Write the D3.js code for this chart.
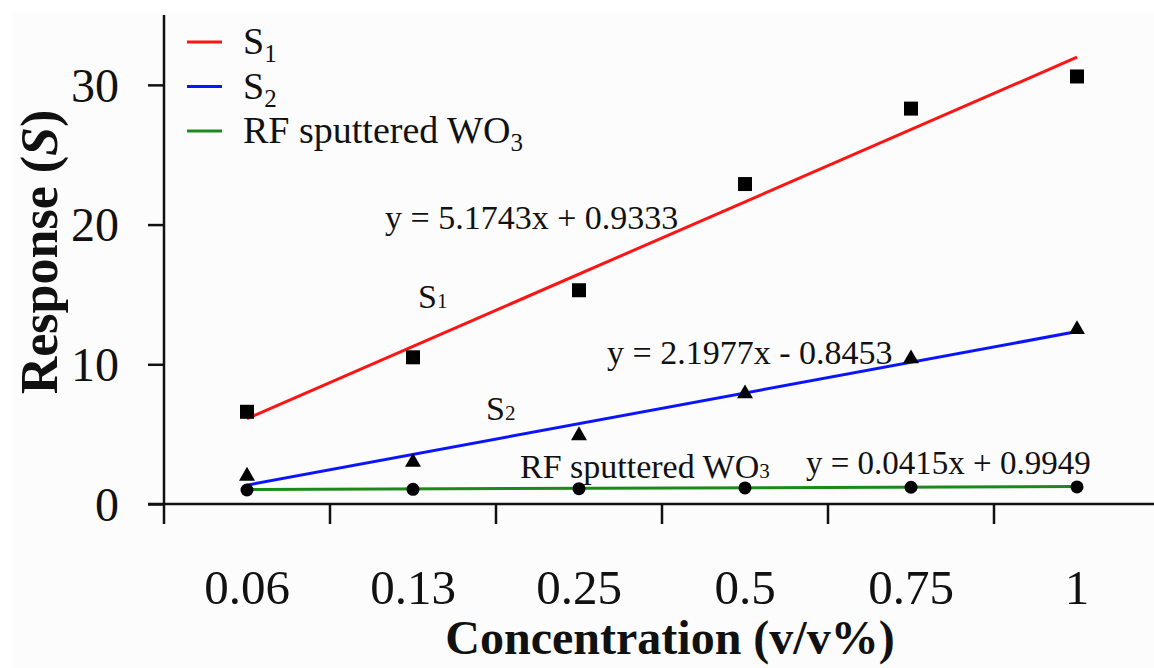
<!DOCTYPE html>
<html>
<head>
<meta charset="utf-8">
<script src="https://cdn.jsdelivr.net/npm/d3@7"></script>
<style>
  html, body { margin: 0; padding: 0; background: #ffffff; }
  svg { display: block; }
  svg text { font-family: "Liberation Serif", "DejaVu Serif", serif !important; fill: #111; }
</style>
</head>
<body>
<svg id="chart" width="1154" height="668"></svg>
<script>
// Concentration categories (plotted at positions 1..6)
const categories = ["0.06", "0.13", "0.25", "0.5", "0.75", "1"];
const positions = [1, 2, 3, 4, 5, 6];

// Measured responses
const s1Values = [6.6, 10.5, 15.3, 22.9, 28.3, 30.6];
const s2Values = [2.0, 3.0, 4.9, 7.9, 10.4, 12.5];
const wo3Values = [1.0, 1.05, 1.1, 1.15, 1.2, 1.22];

// Linear fits y = slope * x + intercept
const s1Fit = [5.1743, 0.9333];
const s2Fit = [2.1977, -0.8453];
const wo3Fit = [0.0415, 0.9949];

const yTicks = [0, 10, 20, 30];

const svg = d3.select("#chart");
svg.append("rect").attr("x", 12).attr("y", 12).attr("width", 1142).attr("height", 656).attr("fill", "#fcfcfc");

const x = d3.scaleLinear().domain([0.5, 6.5]).range([164, 1160]);
const y = d3.scaleLinear().domain([0, 35]).range([504, 15]);

// Y axis
const yAxis = d3.axisLeft(y).tickValues(yTicks).tickSize(16).tickPadding(29);
const gy = svg.append("g").attr("transform", `translate(${x(0.5)},0)`).call(yAxis);
gy.select(".domain").attr("stroke", "#111").attr("stroke-width", 2.5).attr("d", `M0,${y(0)}V${y(35)}`);
gy.selectAll(".tick line").attr("stroke", "#111").attr("stroke-width", 2.5);
gy.selectAll(".tick text").style("font-size", "48px").attr("dy", "0.34em").style("fill", "#111");

// X axis: ticks sit between categories
const gx = svg.append("g").attr("transform", `translate(0,${y(0)})`);
gx.append("line").attr("x1", x(0.5) - 16).attr("x2", 1154).attr("y1", 0).attr("y2", 0)
  .attr("stroke", "#111").attr("stroke-width", 2.5);
const boundaries = positions.map(p => p - 0.5);
gx.selectAll("line.tk").data(boundaries).enter().append("line").attr("class", "tk")
  .attr("x1", d => x(d)).attr("x2", d => x(d)).attr("y1", 0).attr("y2", 20)
  .attr("stroke", "#111").attr("stroke-width", 2.5);
svg.selectAll("text.lbl").data(categories).enter().append("text").attr("class", "lbl")
  .attr("x", (d, i) => x(positions[i])).attr("y", 604).attr("text-anchor", "middle")
  .style("font-size", "49px").text(d => d);

// Axis titles
svg.append("text").attr("x", 670).attr("y", 654).attr("text-anchor", "middle")
  .style("font-size", "48px").style("font-weight", "bold").text("Concentration (v/v%)");
const yt = svg.append("text").attr("transform", "translate(57,252) rotate(-90)")
  .attr("text-anchor", "middle").style("font-size", "52px").style("font-weight", "bold");
yt.append("tspan").text("Response (");
yt.append("tspan").style("font-style", "italic").text("S");
yt.append("tspan").text(")");

// Fit lines
function fitLine(fit, color) {
  const pts = [positions[0], positions[positions.length - 1]].map(p => [x(p), y(fit[0] * p + fit[1])]);
  svg.append("path").attr("d", d3.line()(pts)).attr("stroke", color).attr("stroke-width", 3).attr("fill", "none");
}
fitLine(wo3Fit, "#1a8a1a");
fitLine(s2Fit, "#0a14ff");
fitLine(s1Fit, "#ff1414");

// Markers
svg.selectAll("circle.wo3").data(wo3Values).enter().append("circle").attr("class", "wo3")
  .attr("cx", (d, i) => x(positions[i])).attr("cy", d => y(d)).attr("r", 6.5).attr("fill", "#000");
const tri = d3.symbol().type(d3.symbolTriangle).size(110);
svg.selectAll("path.s2").data(s2Values).enter().append("path").attr("class", "s2")
  .attr("d", tri).attr("transform", (d, i) => `translate(${x(positions[i])},${y(d)})`).attr("fill", "#000");
svg.selectAll("rect.s1").data(s1Values).enter().append("rect").attr("class", "s1")
  .attr("x", (d, i) => x(positions[i]) - 7).attr("y", d => y(d) - 7)
  .attr("width", 14).attr("height", 14).attr("fill", "#000");

// Annotations
function label(txt, sub, px, py, size) {
  const t = svg.append("text").attr("x", px).attr("y", py).style("font-size", size + "px");
  t.append("tspan").text(txt);
  if (sub) t.append("tspan").style("font-size", (size * 0.62) + "px").text(sub);
}
label("y = 5.1743x + 0.9333", null, 385, 229, 34);
label("y = 2.1977x - 0.8453", null, 607, 364, 34);
label("y = 0.0415x + 0.9949", null, 806, 474, 33);
label("S", "1", 418, 308, 34);
label("S", "2", 486, 420, 34);
label("RF sputtered WO", "3", 520, 478, 34);

// Legend
const legend = [["S", "1", "#ff1414"], ["S", "2", "#0a14ff"], ["RF sputtered WO", "3", "#1a8a1a"]];
legend.forEach((d, i) => {
  const ly = 42 + i * 44.5;
  svg.append("line").attr("x1", 187).attr("x2", 222).attr("y1", ly).attr("y2", ly)
    .attr("stroke", d[2]).attr("stroke-width", 3);
  const t = svg.append("text").attr("x", 243).attr("y", ly + 12).style("font-size", "38px");
  t.append("tspan").text(d[0]);
  t.append("tspan").attr("dy", 8).style("font-size", "25px").text(d[1]);
});
</script>
</body>
</html>
